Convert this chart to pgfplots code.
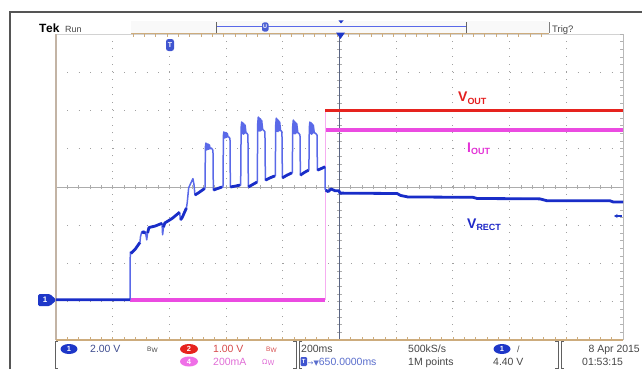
\documentclass[border=0pt]{standalone}
\usepackage{fontspec}
\setmainfont{Liberation Sans}
\newfontfamily\dejavu{DejaVu Sans}
\usepackage{pgfplots}
\pgfplotsset{compat=1.18}
\usetikzlibrary{arrows.meta}
\definecolor{bluedark}{RGB}{25,45,200}
\definecolor{bluelight}{RGB}{90,105,232}
\definecolor{magtr}{RGB}{235,75,225}
\definecolor{redtr}{RGB}{230,35,30}
\definecolor{gridc}{RGB}{160,160,160}
\definecolor{tanc}{RGB}{205,172,125}
\definecolor{tangray}{RGB}{195,180,165}
\definecolor{framec}{RGB}{85,85,85}
\definecolor{centerv}{RGB}{90,100,130}
\definecolor{badgeblue}{RGB}{30,55,200}
\definecolor{txtgray}{RGB}{70,70,70}
\definecolor{txtblue}{RGB}{90,110,205}
\definecolor{txtred}{RGB}{215,75,75}
\definecolor{txtmag}{RGB}{225,110,215}
\definecolor{lblred}{RGB}{228,30,30}
\definecolor{lblmag}{RGB}{228,50,215}
\definecolor{lblblue}{RGB}{30,40,200}
\begin{document}
\begin{tikzpicture}[x=1bp,y=1bp]
\useasboundingbox (0,0) rectangle (642,369);
\fill[white] (0,0) rectangle (642,369);
% outer frame
\draw[framec, line width=1.3bp] (10,0) -- (10,357) -- (642,357);
% top bar
\fill[gray!5] (131,336) rectangle (549,348);
\node[anchor=base west, inner sep=0, font=\bfseries\fontsize{12}{12}\selectfont] at (39,336.5) {T\kern-0.3bp ek};
\node[anchor=base west, inner sep=0, font=\fontsize{9}{9}\selectfont, text=txtgray] at (65,336.5) {Run};
\node[anchor=base west, inner sep=0, font=\fontsize{9.5}{9.5}\selectfont, text=txtgray] at (552,337) {Trig?};
\draw[gray, line width=0.8bp] (549,336) -- (549,347);
% graticule
\draw[gray!35, line width=0.8bp] (56,335) -- (623,335);
\foreach \gx in {112.7,169.4,226.1,282.8,396.2,452.9,509.6,566.3}
  \draw[gridc, line width=1bp, dash pattern=on 1bp off 6.65bp] (\gx,29) -- (\gx,335);
\foreach \gy in {67.25,105.5,143.75,220.25,258.5,296.75}
  \draw[gridc, line width=1bp, dash pattern=on 1bp off 10.34bp] (56,\gy) -- (623,\gy);
\draw[gray!65, line width=0.8bp] (56,182) -- (623,182);
\foreach \k in {0,...,50}{\pgfmathsetmacro\xx{56+\k*11.34}
  \draw[gray!65, line width=0.7bp] (\xx,179.8) -- (\xx,184.2);
  \draw[tanc, line width=0.7bp] (\xx,29) -- (\xx,32);}
\foreach \k in {0,...,40}{\pgfmathsetmacro\yy{29+\k*7.65}
  \draw[gray!65, line width=0.7bp] (337.3,\yy) -- (341.7,\yy);
  \draw[gray!60, line width=0.7bp] (620,\yy) -- (623,\yy);}
\draw[centerv, line width=1bp] (339.5,29) -- (339.5,335);
\draw[tangray, line width=1.6bp] (56,29) -- (56,335);
\draw[gray!55, line width=1bp] (623,29) -- (623,335);
\draw[tanc, line width=1.6bp] (56,29) -- (623,29);
% record bar
\draw[tanc, line width=1.6bp] (131,335.5) -- (549,335.5);
\foreach \k in {0,...,36}{\pgfmathsetmacro\xx{133+\k*11.34}
  \draw[tanc, line width=0.7bp] (\xx,335.5) -- (\xx,332.5);}
\draw[bluelight, line width=1bp] (216,342) -- (466,342);
\draw[gray!80!black, line width=0.9bp] (216,336) -- (216,347);
\draw[gray!80!black, line width=0.9bp] (466,336) -- (466,347);
\fill[badgeblue!80!white, rounded corners=2bp] (262,337.5) rectangle (268.5,346.5);
\node[text=white, font=\bfseries\fontsize{5.5}{5.5}\selectfont, inner sep=0] at (265.2,342) {U};
\fill[badgeblue] (338.5,348.5) -- (343.5,348.5) -- (341,345.5) -- cycle;
\fill[badgeblue] (336,336.5) -- (345,336.5) -- (340.5,330) -- cycle;

\begin{axis}[at={(56bp,29bp)}, anchor=south west, scale only axis,
  width=567bp, height=306bp, xmin=0, xmax=2000, ymin=-4, ymax=4,
  axis line style={draw=none}, ticks=none, unbounded coords=jump]
% magenta (I_OUT)
\addplot[magtr, line width=3.6bp, no markers] coordinates {
 (261,-2.95) (949,-2.95) (950,nan) (950,1.49) (2000,1.49)};
\addplot[magtr!45!white, line width=0.7bp, no markers] coordinates {
 (949.5,-2.95) (949.5,2.01)};
% red (V_OUT)
\addplot[redtr, line width=3bp, no markers] coordinates {
 (950,2.01) (2000,2.01)};
% blue (V_RECT) full trace
\addplot[bluelight, line width=1.5bp, no markers, line join=round] coordinates {
 (0,-2.95) (261,-2.95)
 (262,-1.70) (264,-1.74) (280,-1.62) (296,-1.45) (298,-1.30) (302,-1.18) (310,-1.15)
 (316,-1.20) (320,-1.38) (323,-1.20) (328,-1.06) (350,-1.02) (374,-0.95) (376,-1.25)
 (379,-1.05) (384,-0.94) (410,-0.82) (436,-0.66) (439,-0.86) (445,-0.80) (460,-0.55)
 (463,-0.40) (468,-0.02) (478,0.14) (483,0.22) (487,0.05) (490,-0.21) (505,-0.14) (524,-0.04)
 (525.5,-0.04) (527,1.05) (529,1.15) (531,0.97) (533,1.13) (535,0.98) (537,1.12) (539,0.99)
 (541,1.10) (544,1.00) (548,1.02) (552,0.98) (553.7,0.95) (555,-0.08) (570,-0.04) (585.5,0.00)
 (589,0.00) (590.5,1.35) (592,1.44) (594,1.28) (596,1.43) (598,1.29) (600,1.42) (602,1.30)
 (604,1.40) (607,1.31) (611,1.30) (613.7,1.26) (615,0.00) (630,0.02) (649,0.05)
 (651.4,0.05) (653,1.55) (655,1.70) (657,1.40) (659,1.68) (661,1.38) (663,1.65) (665,1.40)
 (667,1.62) (670,1.42) (674,1.40) (677,1.36) (678.5,0.00) (695,0.07) (709,0.13)
 (710,0.13) (711.5,1.65) (713.5,1.83) (715.5,1.47) (717.5,1.80) (719.5,1.46) (721.5,1.78)
 (723.5,1.48) (725.5,1.74) (729,1.50) (733,1.48) (737,1.44) (738.5,0.18) (755,0.24) (772,0.29)
 (773.5,0.29) (775,1.62) (777,1.80) (779,1.46) (781,1.77) (783,1.45) (785,1.74) (787,1.47)
 (789,1.70) (792,1.48) (795,1.46) (797,1.44) (798.5,0.24) (815,0.31) (832,0.37)
 (833.5,0.37) (835,1.58) (837,1.75) (839,1.40) (841,1.72) (843,1.39) (845,1.69) (847,1.41)
 (849,1.66) (853,1.42) (857,1.40) (860.6,1.36) (862,0.31) (876,0.38) (890.6,0.44)
 (892,0.44) (893.5,1.55) (895.5,1.70) (897.5,1.40) (899.5,1.68) (901.5,1.38) (903.5,1.65)
 (905.5,1.40) (907.5,1.62) (911,1.42) (916,1.40) (920.6,1.36) (922,0.44) (935,0.48) (948.8,0.53)
 (949.5,-0.06) (960,-0.12) (970,-0.05) (985,-0.10) (998,-0.10) (1002,-0.16) (1203,-0.17)
 (1215,-0.22) (1241,-0.26) (1471,-0.27) (1485,-0.30) (1707,-0.31) (1732,-0.36) (1954,-0.36)
 (1965,-0.39) (2000,-0.39)};
% blue thick segments
\addplot[bluedark, line width=2.8bp, no markers, line join=round] coordinates {
 (0,-2.95) (261,-2.95) (262,nan)
 (264,-1.74) (280,-1.62) (296,-1.45) (297,nan)
 (302,-1.18) (316,-1.20) (317,nan)
 (323,-1.20) (328,-1.06) (350,-1.02) (374,-0.95) (375,nan)
 (379,-1.05) (384,-0.94) (410,-0.82) (436,-0.66) (437,nan)
 (439,-0.86) (445,-0.80) (460,-0.55) (461,nan)
 (490,-0.21) (505,-0.14) (524,-0.04) (525,nan)
 (555,-0.08) (570,-0.04) (585.5,0.00) (586,nan)
 (615,0.00) (630,0.02) (649,0.05) (650,nan)
 (678.5,0.00) (695,0.07) (709,0.13) (709.5,nan)
 (738.5,0.18) (755,0.24) (772,0.29) (773,nan)
 (798.5,0.24) (815,0.31) (832,0.37) (833,nan)
 (862,0.31) (876,0.38) (890.6,0.44) (891,nan)
 (922,0.44) (935,0.48) (948.8,0.53) (949,nan)
 (951,-0.08) (960,-0.12) (970,-0.05) (985,-0.10) (998,-0.10) (1002,-0.16) (1203,-0.17)
 (1215,-0.22) (1241,-0.26) (1471,-0.27) (1485,-0.30) (1707,-0.31) (1732,-0.36) (1954,-0.36)
 (1965,-0.39) (2000,-0.39)};
\end{axis}

% markers on graticule
\fill[badgeblue, rounded corners=1.5bp] (38,75) -- (50,75) -- (56.5,69) -- (50,63) -- (38,63) -- cycle;
\node[text=white, font=\bfseries\fontsize{8}{8}\selectfont, inner sep=0] at (45,69) {1};
\fill[badgeblue!85!white, rounded corners=2.5bp] (166,318) rectangle (174,330);
\node[text=white, font=\bfseries\fontsize{7}{7}\selectfont, inner sep=0] at (170,324) {T};
\draw[-{Stealth[length=3.5bp,width=4bp]}, badgeblue, line width=1.3bp] (622,153) -- (614,153);
% trace labels
\node[anchor=base west, inner sep=0, text=lblred, font=\bfseries\fontsize{14}{14}\selectfont] at (458,267.3)
  {V\raisebox{-2.5bp}{\fontsize{9}{9}\selectfont OUT}};
\node[anchor=base west, inner sep=0, text=lblmag, font=\bfseries\fontsize{14}{14}\selectfont] at (467,217)
  {I\raisebox{-2.5bp}{\fontsize{9}{9}\selectfont OUT}};
\node[anchor=base west, inner sep=0, text=lblblue, font=\bfseries\fontsize{14}{14}\selectfont] at (467,141)
  {V\raisebox{-2.5bp}{\fontsize{9}{9}\selectfont RECT}};

% bottom status bar
\foreach \bx in {55,299,561}{
  \draw[gray!75!black, line width=0.9bp] (\bx+3,28) -- (\bx,28) -- (\bx,0.5) -- (\bx+3,0.5);}
\foreach \bx in {296,558}{
  \draw[gray!75!black, line width=0.9bp] (\bx-3,28) -- (\bx,28) -- (\bx,0.5) -- (\bx-3,0.5);}
\fill[badgeblue] (69,20) ellipse (8.5bp and 5bp);
\node[text=white, font=\bfseries\fontsize{7.5}{7.5}\selectfont, inner sep=0] at (69,20) {1};
\node[anchor=base west, inner sep=0, text=txtblue!70!black, font=\fontsize{10.5}{10.5}\selectfont] at (90,16.5) {2.00 V};
\node[anchor=base west, inner sep=0, text=txtgray, font=\fontsize{6.5}{6.5}\selectfont] at (147,18) {B\raisebox{-1.5bp}{W}};
\fill[redtr] (189,20) ellipse (9bp and 5bp);
\node[text=white, font=\bfseries\fontsize{7.5}{7.5}\selectfont, inner sep=0] at (189,20) {2};
\node[anchor=base west, inner sep=0, text=txtred, font=\fontsize{10.5}{10.5}\selectfont] at (213,16.5) {1.00 V};
\node[anchor=base west, inner sep=0, text=txtred, font=\fontsize{6.5}{6.5}\selectfont] at (266,18) {B\raisebox{-1.5bp}{W}};
\fill[magtr!80!white] (189,7.5) ellipse (9bp and 5bp);
\node[text=white, font=\bfseries\fontsize{7.5}{7.5}\selectfont, inner sep=0] at (189,7.5) {4};
\node[anchor=base west, inner sep=0, text=txtmag, font=\fontsize{10.5}{10.5}\selectfont] at (213,3.5) {200mA};
\node[anchor=base west, inner sep=0, text=txtmag, font=\fontsize{7}{7}\selectfont] at (262,5) {\dejavu Ω\raisebox{-1.5bp}{W}};
\node[anchor=base west, inner sep=0, text=txtgray, font=\fontsize{10.5}{10.5}\selectfont] at (301,16.5) {200ms};
\fill[badgeblue!85!white, rounded corners=1.2bp] (300.5,3) rectangle (307,12);
\node[text=white, font=\bfseries\fontsize{6}{6}\selectfont, inner sep=0] at (303.7,7.5) {T};
\node[anchor=base west, inner sep=0, text=txtblue, font=\fontsize{10.5}{10.5}\selectfont] at (307.5,3.5) {{\dejavu\fontsize{7}{7}\selectfont →▼}650.0000ms};
\node[anchor=base west, inner sep=0, text=txtgray, font=\fontsize{10.5}{10.5}\selectfont] at (408,16.5) {500kS/s};
\node[anchor=base west, inner sep=0, text=txtgray, font=\fontsize{10.5}{10.5}\selectfont] at (408,3.5) {1M points};
\fill[badgeblue] (502,20) ellipse (8.5bp and 5bp);
\node[text=white, font=\bfseries\fontsize{7.5}{7.5}\selectfont, inner sep=0] at (502,20) {1};
\node[anchor=base west, inner sep=0, text=txtgray, font=\fontsize{9}{9}\selectfont] at (517,16.5) {/};
\node[anchor=base west, inner sep=0, text=txtgray, font=\fontsize{10.5}{10.5}\selectfont] at (493,3.5) {4.40 V};
\node[anchor=base east, inner sep=0, text=txtgray, font=\fontsize{10.5}{10.5}\selectfont] at (640,16.5) {8 Apr 2015};
\node[anchor=base west, inner sep=0, text=txtgray, font=\fontsize{10.5}{10.5}\selectfont] at (582,3.5) {01:53:15};
\end{tikzpicture}
\end{document}
